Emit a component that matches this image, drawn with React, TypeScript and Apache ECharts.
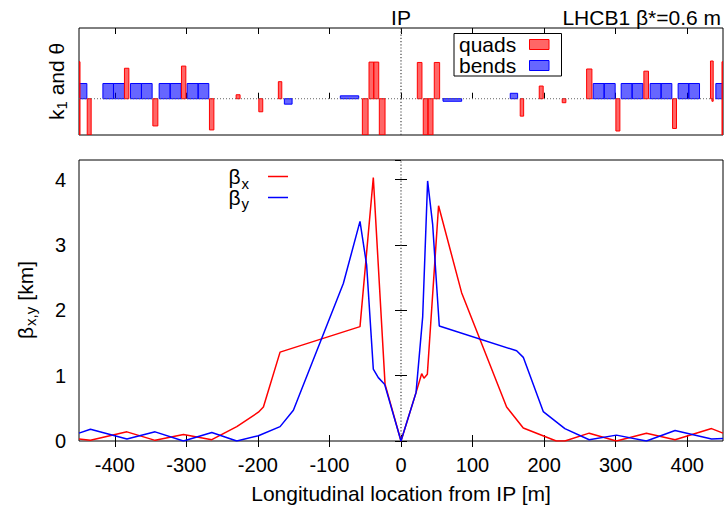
import React, { useEffect, useRef } from "react";
import * as echarts from "echarts";

// ---------- data ----------
const xTicks = [-400, -300, -200, -100, 0, 100, 200, 300, 400];

// quadrupoles: start [m], end [m], strength (arb. units)
const quadStart = [-450, -450, -438.5, -386.5, -346.8, -306.8, -267.7, -230.4, -198.7, -171.4, -54, -44.7, -38.1, -30.3, 22.8, 31.1, 37.7, 46.5, 166.6, 193.2, 225.3, 259.4, 300.3, 339.4, 379.5, 432.5, 434.5, 448.6, 448.6];
const quadEnd = [-448.6, -448.6, -433, -380.3, -339.8, -300.7, -261.5, -224.9, -193.2, -166.6, -46, -38.1, -31.1, -22.3, 29.3, 37.7, 44.7, 54, 171.4, 198.7, 230.4, 266.8, 305.9, 345.9, 385, 436.3, 436.3, 450, 450];
const quadK = [1.02, -1.2, -1.2, 0.84, -0.75, 0.9, -0.86, 0.11, -0.36, 0.47, -1.2, 1.01, 1.01, -1.2, 1.0, -1.2, -1.2, 1.0, -0.48, 0.35, -0.11, 0.82, -0.89, 0.76, -0.82, 1.04, -0.07, 1.02, -1.2];

// bends: start [m], end [m], angle (arb. units)
const bendStart = [-450, -416.6, -401.8, -378.1, -362.7, -338, -322.6, -298.9, -283.5, -163, -84.8, 58.7, 152.7, 268.6, 283.9, 307.7, 323, 348.2, 363.5, 387.3, 402.2, 440];
const bendEnd = [-439, -401.8, -386.5, -362.7, -347.8, -322.6, -307.3, -283.5, -268.6, -152.2, -59.1, 84.8, 163, 283.9, 299.3, 323, 338, 363.5, 378.5, 402.2, 417.2, 450];
const bendAngle = [0.42, 0.42, 0.42, 0.42, 0.42, 0.42, 0.42, 0.42, 0.42, -0.15, 0.08, -0.07, 0.15, 0.42, 0.42, 0.42, 0.42, 0.42, 0.42, 0.42, 0.42, 0.42];

// beta functions [km]
const betaXPos = [-450, -434, -383, -343.6, -304, -264.4, -229.5, -199.3, -192.3, -169, -57.3, -38.7, -22.3, 0, 21, 28.9, 32.1, 36.8, 52.5, 84.7, 147.6, 170.9, 217, 229, 263, 301, 343, 383, 434, 450];
const betaXVal = [0.03, 0.01, 0.14, 0.01, 0.1, 0.02, 0.22, 0.44, 0.52, 1.36, 1.75, 4.03, 0.87, 0.0, 0.74, 1.03, 0.96, 1.02, 3.6, 2.27, 0.52, 0.2, 0.0, 0.0, 0.12, 0.0, 0.12, 0.02, 0.19, 0.12];
const betaYPos = [-450, -434, -383, -343.6, -304, -264.4, -229.5, -199.3, -169, -150.4, -80.6, -57.3, -48, -38.7, -31.7, -23, 0, 21, 30.3, 37.2, 44.2, 53.5, 161.6, 170.9, 198.8, 229, 263, 301, 343, 383, 434, 450];
const betaYVal = [0.12, 0.18, 0.03, 0.14, 0.0, 0.13, 0.0, 0.08, 0.22, 0.47, 2.41, 3.36, 2.69, 1.1, 0.97, 0.87, 0.0, 0.74, 1.9, 3.98, 3.32, 1.76, 1.38, 1.28, 0.45, 0.19, 0.02, 0.09, 0.0, 0.16, 0.03, 0.04];

const FONT = "Liberation Sans, Arial, Helvetica, sans-serif";

function rectItem(fill: string, stroke: string) {
  return (params: any, api: any) => {
    const s = api.value(0), e = api.value(1), v = api.value(2);
    const a = api.coord([s, 0]);
    const b = api.coord([e, v]);
    const r = {
      x: Math.min(a[0], b[0]),
      y: Math.min(a[1], b[1]),
      width: Math.abs(b[0] - a[0]),
      height: Math.abs(b[1] - a[1]),
    };
    const cs = params.coordSys;
    const shape = echarts.graphic.clipRectByRect(r, { x: cs.x, y: cs.y, width: cs.width, height: cs.height });
    if (!shape) return null;
    return { type: "rect", shape, style: { fill, stroke, lineWidth: 1 } };
  };
}

export default function App() {
  const ref = useRef<HTMLDivElement>(null);
  useEffect(() => {
    if (!ref.current) return;
    const chart = echarts.init(ref.current, undefined, { renderer: "svg" });
    const tick = { show: true, inside: true, length: 6, lineStyle: { color: "#000", width: 1 } };
    const noAxis = { axisLine: { show: false }, splitLine: { show: false } };
    const dotted = { color: "#666", width: 1, type: [1, 2] };
    const dottedV = { color: "#444", width: 1.2, type: [1.2, 2] };
    const txt = (text: string, x: number, y: number, size: number, align = "left", extra: any = {}) => ({
      type: "text",
      x,
      y,
      style: { text, fontSize: size, fontFamily: FONT, fill: "#000", align, verticalAlign: "middle", ...extra },
    });
    const option: any = {
      animation: false,
      grid: [
        { left: 79, top: 28, width: 644, height: 107, show: true, borderColor: "#000", borderWidth: 1, backgroundColor: "transparent" },
        { left: 79, top: 160, width: 644, height: 281, show: true, borderColor: "#000", borderWidth: 1, backgroundColor: "transparent" },
      ],
      xAxis: [
        { gridIndex: 0, type: "value", min: -450, max: 450, position: "bottom", ...noAxis, axisTick: { ...tick, customValues: xTicks }, axisLabel: { show: false } },
        { gridIndex: 0, type: "value", min: -450, max: 450, position: "top", ...noAxis, axisTick: { ...tick, customValues: xTicks }, axisLabel: { show: false } },
        {
          gridIndex: 1, type: "value", min: -450, max: 450, position: "bottom", ...noAxis,
          axisTick: { ...tick, customValues: xTicks },
          axisLabel: { show: true, customValues: xTicks, margin: 14, fontSize: 20, fontFamily: FONT, color: "#000" },
        },
        { gridIndex: 1, type: "value", min: -450, max: 450, position: "top", ...noAxis, axisTick: { ...tick, customValues: xTicks }, axisLabel: { show: false } },
      ],
      yAxis: [
        { gridIndex: 0, type: "value", min: -1, max: 1.95, ...noAxis, axisTick: { show: false }, axisLabel: { show: false } },
        {
          gridIndex: 1, type: "value", min: 0, max: 4.3, interval: 1, position: "left", ...noAxis,
          axisTick: tick,
          axisLabel: { show: true, margin: 13, fontSize: 20, fontFamily: FONT, color: "#000", showMaxLabel: false },
        },
        { gridIndex: 1, type: "value", min: 0, max: 4.3, interval: 1, position: "right", ...noAxis, axisTick: tick, axisLabel: { show: false } },
      ],
      series: [
        {
          type: "line", xAxisIndex: 0, yAxisIndex: 0, data: [[-450, 0], [450, 0]], showSymbol: false, silent: true,
          lineStyle: dotted,
        },
        {
          type: "line", xAxisIndex: 0, yAxisIndex: 0, data: [[0, -1], [0, 1.95]], showSymbol: false, silent: true,
          lineStyle: dottedV,
        },
        {
          type: "custom", xAxisIndex: 0, yAxisIndex: 0, clip: true, silent: true,
          data: bendStart.map((s, i) => [s, bendEnd[i], bendAngle[i]]),
          encode: { x: [0, 1], y: 2 },
          renderItem: rectItem("rgba(0,0,255,0.6)", "#0000ff"),
        },
        {
          type: "custom", xAxisIndex: 0, yAxisIndex: 0, clip: true, silent: true,
          data: quadStart.map((s, i) => [s, quadEnd[i], quadK[i]]),
          encode: { x: [0, 1], y: 2 },
          renderItem: rectItem("rgba(255,0,0,0.6)", "#ff0000"),
        },
        {
          type: "line", xAxisIndex: 2, yAxisIndex: 1, data: [[0, 0], [0, 4.3]], showSymbol: false, silent: true,
          lineStyle: dottedV,
        },
        {
          type: "line", xAxisIndex: 2, yAxisIndex: 1, clip: true, showSymbol: false, silent: true,
          data: betaXPos.map((x, i) => [x, betaXVal[i]]),
          lineStyle: { color: "#ff0000", width: 1.5 },
        },
        {
          type: "line", xAxisIndex: 2, yAxisIndex: 1, clip: true, showSymbol: false, silent: true,
          data: betaYPos.map((x, i) => [x, betaYVal[i]]),
          lineStyle: { color: "#0000ff", width: 1.5 },
        },
      ],
      graphic: [
        txt("IP", 401, 17, 21, "center"),
        txt("LHCB1 β*=0.6 m", 721, 17, 21, "right"),
        // top legend
        { type: "rect", shape: { x: 454, y: 33.5, width: 107.5, height: 42.5 }, style: { fill: "#fff", stroke: "#000", lineWidth: 1 } },
        txt("quads", 459, 44.5, 21),
        txt("bends", 459, 65.5, 21),
        { type: "rect", shape: { x: 529.5, y: 39.5, width: 19.5, height: 10 }, style: { fill: "rgba(255,0,0,0.6)", stroke: "#ff0000", lineWidth: 1 } },
        { type: "rect", shape: { x: 529.5, y: 60.5, width: 19.5, height: 10 }, style: { fill: "rgba(0,0,255,0.6)", stroke: "#0000ff", lineWidth: 1 } },
        // lower legend
        txt("β", 228.5, 176.5, 21),
        txt("x", 241.5, 183, 15),
        txt("β", 228.5, 197.5, 21),
        txt("y", 241.5, 203, 15),
        { type: "line", shape: { x1: 268, y1: 176.5, x2: 288, y2: 176.5 }, style: { stroke: "#ff0000", lineWidth: 1.5 } },
        { type: "line", shape: { x1: 268, y1: 197.5, x2: 288, y2: 197.5 }, style: { stroke: "#0000ff", lineWidth: 1.5 } },
        // y-axis label, top panel
        {
          type: "group", x: 56, y: 81.5, rotation: Math.PI / 2,
          children: [
            txt("k", -38.5, 0, 21),
            txt("1", -28, 5, 15),
            txt(" and θ", -19.7, 0, 21),
          ],
        },
        // y-axis label, lower panel
        {
          type: "group", x: 25, y: 300, rotation: Math.PI / 2,
          children: [
            txt("β", -39, 0, 21),
            txt("x,y", -26, 5, 15),
            txt(" [km]", -6.5, 0, 21),
          ],
        },
        // x-axis label
        txt("Longitudinal location from IP [m]", 401, 493, 21, "center"),
      ],
    };
    chart.setOption(option);
    return () => chart.dispose();
  }, []);
  return <div ref={ref} style={{ position: "absolute", left: 0, top: 0, width: 724, height: 507 }} />;
}
